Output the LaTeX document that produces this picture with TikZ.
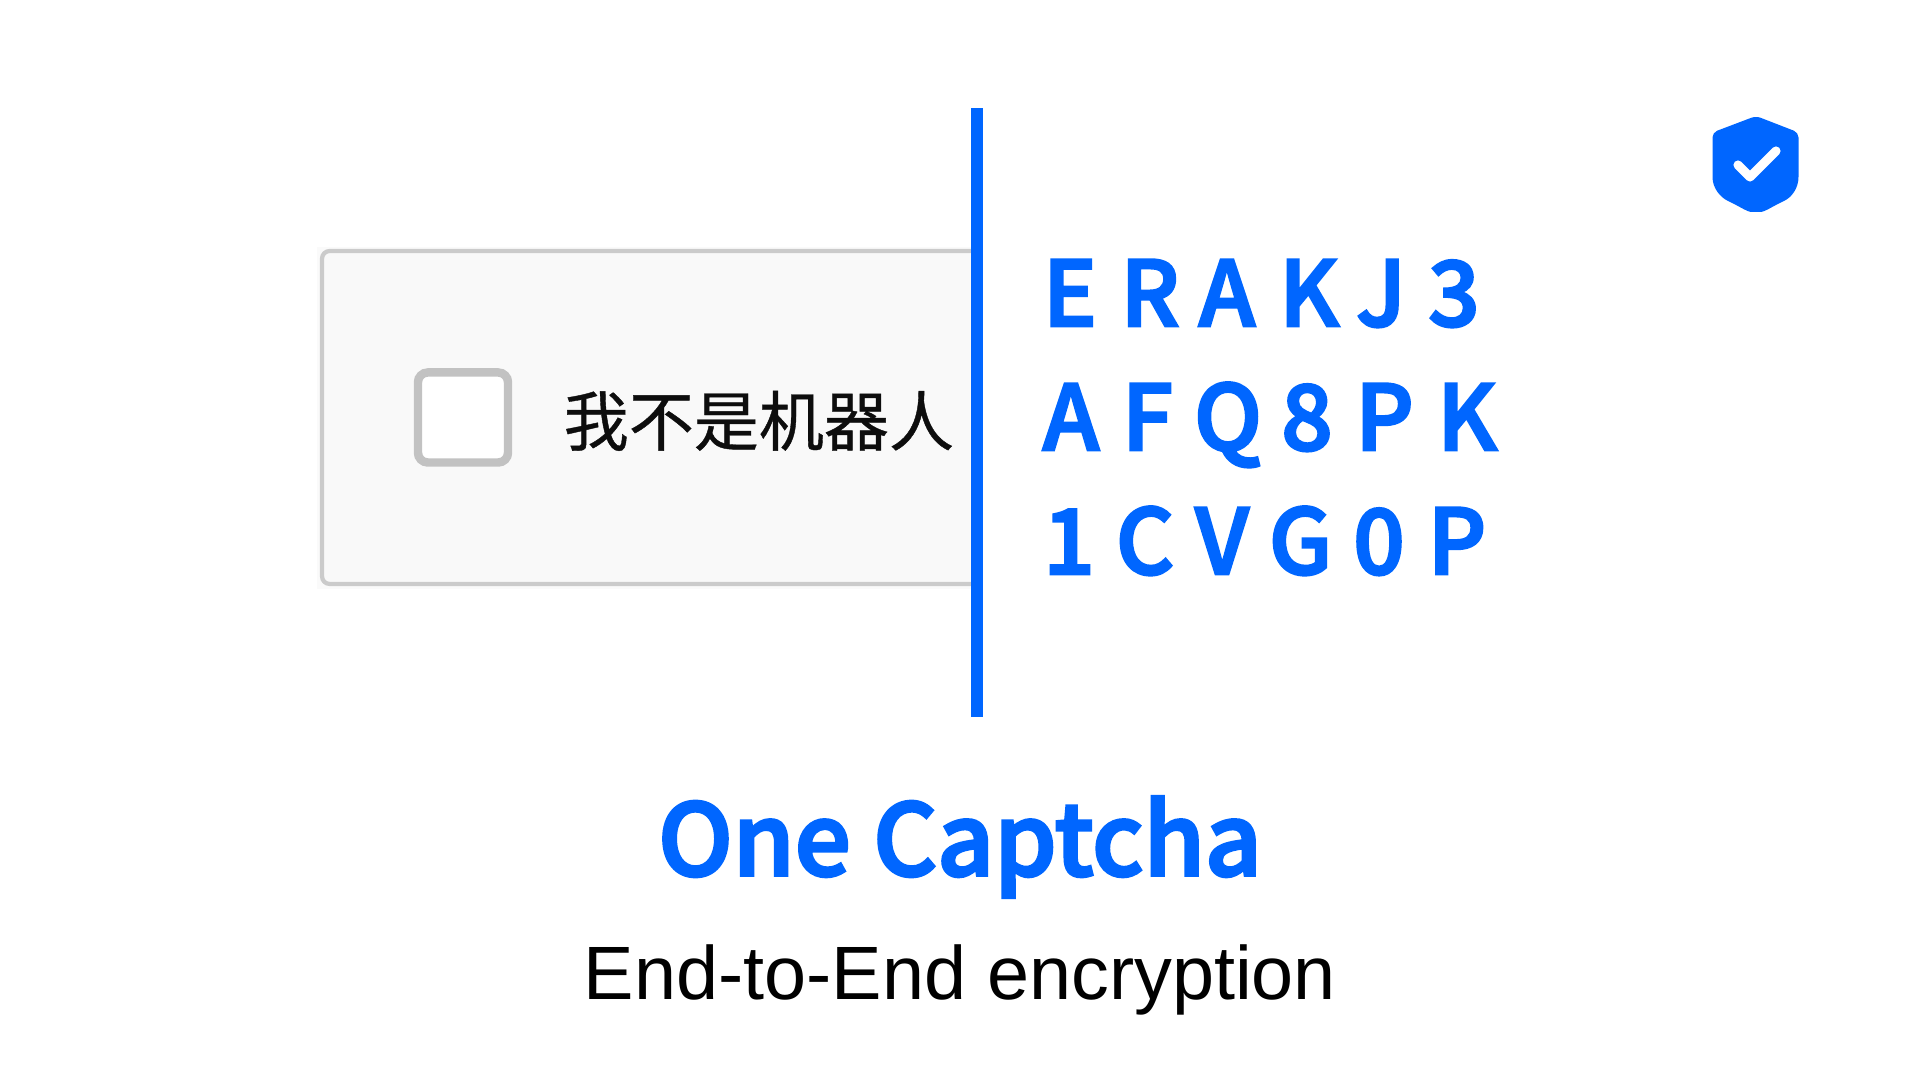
\documentclass[tikz,border=0pt]{standalone}
\usepackage{fontspec}
\setmainfont{Noto Sans CJK SC}
\newfontfamily\cjkmed[FakeBold=3]{Noto Sans CJK SC Medium}
\newfontfamily\subfont{Liberation Sans}
\definecolor{brandblue}{HTML}{0066FF}
\definecolor{panelfill}{HTML}{F9F9F9}
\definecolor{panelhalo}{HTML}{FAFAFA}
\definecolor{panelline}{HTML}{CBCBCB}
\definecolor{checkline}{HTML}{C2C2C2}
\tikzset{
  glyph/.style={inner sep=0pt,anchor=base,text=brandblue,font=\fontsize{25.6}{30}\selectfont\cjkmed},
}
\begin{document}
\begin{tikzpicture}[x=0.01cm,y=-0.01cm]
\useasboundingbox (0,0) rectangle (1920,1080);
\fill[white] (0,0) rectangle (1920,1080);
% panel
\fill[panelhalo] (317,247) rectangle (975,589);
\path[fill=panelfill,draw=panelline,line width=1.2pt,rounded corners=2.2pt]
  (322,251) -- (980,251) -- (980,584) -- (322,584) -- cycle;
\node[name=checkbox,draw=checkline,fill=white,line width=2.4pt,rounded corners=2.8pt,minimum width=0.9cm,minimum height=0.9cm,inner sep=0pt] at (463,417.5) {};
\node[name=label,inner sep=0pt,anchor=base west,font=\fontsize{18.5}{22}\selectfont,text=black!95] at (563,445.5) {\addfontfeature{FakeBold=0.6}我不是机器人};
% divider
\fill[brandblue] (971,108) rectangle (983,717);
% letters
\foreach \ch/\xx/\yy in {E/1070/326,R/1150/326,A/1227/326,K/1309/326,J/1381/326,3/1454/326,
  A/1071/450,F/1147.5/450,Q/1228/450,8/1307/450,P/1384.5/450,K/1467/450,
  1/1069/574,C/1145/574,V/1222/574,G/1300.5/574,0/1379/574,P/1457/574}
  \node[glyph] at (\xx,\yy) {\ch};
% shield
\fill[brandblue,rounded corners=1.4pt] (1756,116) -- (1798.5,132.5) -- (1798.5,172) .. controls (1798.5,188) and (1792,197) .. (1780,203) .. controls (1772,207) and (1764,212) .. (1756,212) .. controls (1748,212) and (1740,207) .. (1732,203) .. controls (1720,197) and (1712.5,188) .. (1712.5,172) -- (1712.5,132.5) -- cycle;
\draw[white,line width=2.6pt,line cap=round,line join=round] (1738,165) -- (1750,177) -- (1776,151);
% titles
\node[name=title,inner sep=0pt,anchor=base,text=brandblue,font=\fontsize{28.2}{32}\selectfont\cjkmed] at (960,875.5) {One Captcha};
\node[name=subtitle,inner sep=0pt,anchor=base,font=\fontsize{21.5}{25}\selectfont\subfont] at (960,1000) {End-to-End encryption};
\end{tikzpicture}
\end{document}
